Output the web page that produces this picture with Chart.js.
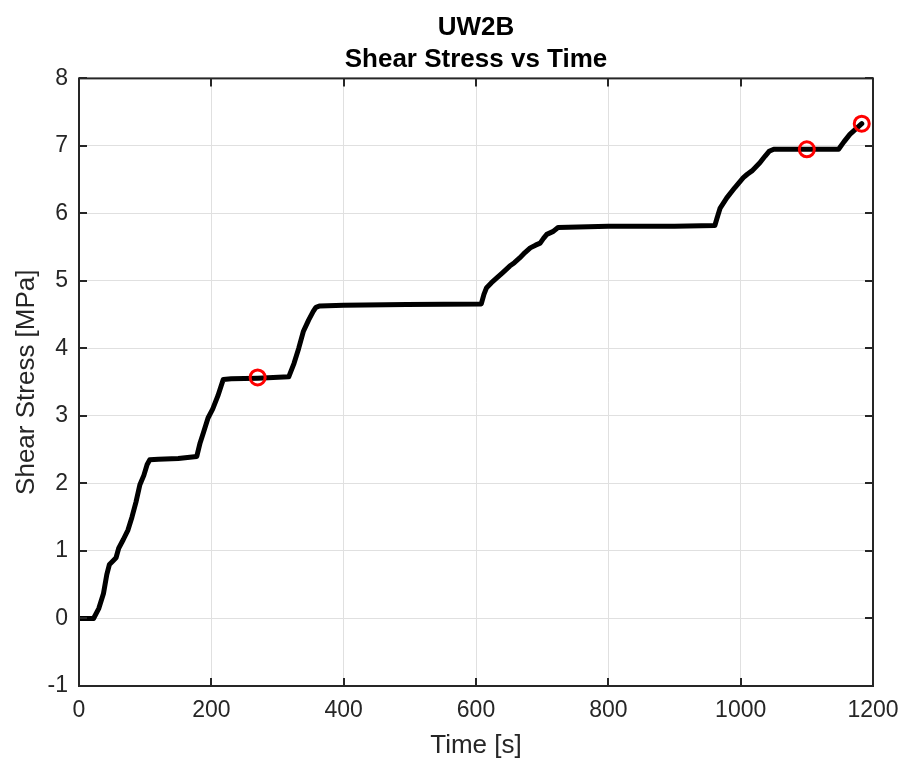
<!DOCTYPE html>
<html>
<head>
<meta charset="utf-8">
<script src="https://cdn.jsdelivr.net/npm/chart.js@4"></script>
<style>
  html, body { margin: 0; padding: 0; background: #fff; }
  #wrap { width: 902px; height: 762px; }
</style>
</head>
<body>
<div id="wrap"><canvas id="shearChart"></canvas></div>
<script>
// shear stress record
var timeS = [0, 22, 30, 37, 42, 46, 52, 56, 60, 67, 74, 80, 86, 92, 98, 103, 107, 120, 150, 178,
    183, 188, 195, 202, 210, 218, 230, 270, 317, 325, 332, 339, 347, 354, 358, 364, 400, 495, 608,
    612, 616, 623, 631, 640, 651, 658, 666, 674, 682, 690, 697, 702, 707, 716, 724, 800, 900, 961,
    964, 969, 979, 991, 1004, 1010, 1017, 1029, 1037, 1043, 1050, 1100, 1148, 1156, 1165, 1175, 1183];
var stressMPa = [0, 0, 0.15, 0.37, 0.65, 0.80, 0.86, 0.90, 1.04, 1.17, 1.31, 1.50, 1.72, 1.98, 2.12, 2.28, 2.35, 2.36, 2.37, 2.40,
    2.60, 2.75, 2.97, 3.10, 3.30, 3.54, 3.55, 3.56, 3.58, 3.78, 4.00, 4.25, 4.42, 4.55, 4.61, 4.63, 4.64, 4.65, 4.66,
    4.80, 4.90, 4.97, 5.04, 5.12, 5.22, 5.27, 5.34, 5.42, 5.49, 5.53, 5.56, 5.63, 5.69, 5.73, 5.79, 5.81, 5.81, 5.82,
    5.92, 6.08, 6.23, 6.38, 6.53, 6.58, 6.63, 6.75, 6.85, 6.92, 6.95, 6.95, 6.95, 7.06, 7.17, 7.26, 7.33];

// red circles
var markTimeS = [270, 1100, 1183];
var markStress = [3.57, 6.95, 7.33];

var xTicks = [0, 200, 400, 600, 800, 1000, 1200];
var yTicks = [-1, 0, 1, 2, 3, 4, 5, 6, 7, 8];

var axisColor = "#262626";
var fontFam = "'Liberation Sans', Arial, Helvetica, sans-serif";

function toPoints(xs, ys) {
    return xs.map(function (x, i) { return { x: x, y: ys[i] }; });
}

// matlab style box with inward ticks on all four sides
var boxPlugin = {
    id: 'boxPlugin',
    afterDatasetsDraw: function (chart) {
        var ctx = chart.ctx;
        var a = chart.chartArea;
        var xs = chart.scales.x, ys = chart.scales.y;
        var len = 8;
        ctx.save();
        ctx.strokeStyle = axisColor;
        ctx.lineWidth = 2;
        ctx.beginPath();
        xTicks.forEach(function (v) {
            var px = Math.round(xs.getPixelForValue(v));
            ctx.moveTo(px, a.bottom); ctx.lineTo(px, a.bottom - len);
            ctx.moveTo(px, a.top); ctx.lineTo(px, a.top + len);
        });
        yTicks.forEach(function (v) {
            var py = Math.round(ys.getPixelForValue(v));
            ctx.moveTo(a.left, py); ctx.lineTo(a.left + len, py);
            ctx.moveTo(a.right, py); ctx.lineTo(a.right - len, py);
        });
        ctx.stroke();
        ctx.strokeRect(a.left, a.top, a.right - a.left, a.bottom - a.top);
        ctx.restore();
    }
};

var shearChart = new Chart(document.getElementById('shearChart'), {
    type: 'scatter',
    data: {
        datasets: [{
            data: toPoints(markTimeS, markStress),
            showLine: false,
            pointStyle: 'circle',
            pointRadius: 7.5,
            pointBorderWidth: 3,
            pointBorderColor: "#ff0000",
            pointBackgroundColor: "rgba(0,0,0,0)",
            order: 0,
            clip: false
        }, {
            data: toPoints(timeS, stressMPa),
            showLine: true,
            borderColor: "#000000",
            borderWidth: 5,
            borderJoinStyle: 'round',
            borderCapStyle: 'round',
            pointRadius: 0,
            tension: 0,
            order: 1
        }]
    },
    plugins: [boxPlugin],
    options: {
        responsive: true,
        maintainAspectRatio: false,
        animation: false,
        events: [],
        layout: { padding: { left: 0, right: 29, top: 0, bottom: 0 } },
        plugins: {
            legend: { display: false },
            tooltip: { enabled: false },
            title: {
                display: true,
                fullSize: false,
                text: 'UW2B',
                color: "#000000",
                font: { family: fontFam, size: 26, weight: 'bold' },
                padding: { top: 12, bottom: 1 }
            },
            subtitle: {
                display: true,
                fullSize: false,
                text: 'Shear Stress vs Time',
                color: "#000000",
                font: { family: fontFam, size: 26, weight: 'bold' },
                padding: { top: 0, bottom: 3 }
            }
        },
        scales: {
            x: {
                type: 'linear',
                min: 0,
                max: 1200,
                afterBuildTicks: function (s) { s.ticks = xTicks.map(function (v) { return { value: v }; }); },
                afterFit: function (s) { s.height = 76; s.paddingLeft = 0; s.paddingRight = 0; },
                grid: { color: "#e0e0e0", lineWidth: 1, drawTicks: false },
                border: { display: false },
                ticks: {
                    color: axisColor,
                    padding: 11,
                    font: { family: fontFam, size: 23 },
                    callback: function (value) { return String(value); }
                },
                title: {
                    display: true,
                    text: 'Time [s]',
                    color: axisColor,
                    font: { family: fontFam, size: 26 },
                    padding: { top: 0, bottom: 1 }
                }
            },
            y: {
                type: 'linear',
                min: -1,
                max: 8,
                afterBuildTicks: function (s) { s.ticks = yTicks.map(function (v) { return { value: v }; }); },
                afterFit: function (s) { s.width = 79; },
                grid: { color: "#e0e0e0", lineWidth: 1, drawTicks: false },
                border: { display: false },
                ticks: {
                    color: axisColor,
                    padding: 11,
                    font: { family: fontFam, size: 23 },
                    callback: function (value) { return String(value); }
                },
                title: {
                    display: true,
                    text: 'Shear Stress [MPa]',
                    color: axisColor,
                    font: { family: fontFam, size: 26 },
                    padding: { top: 11, bottom: 0 }
                }
            }
        }
    }
});
</script>
</body>
</html>
